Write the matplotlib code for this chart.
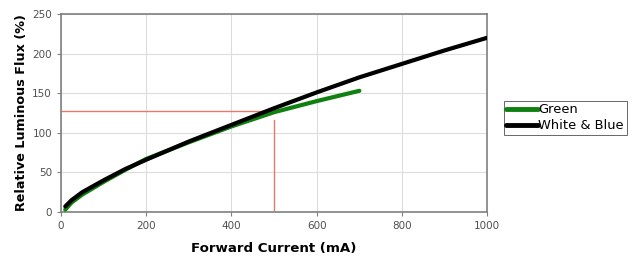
import matplotlib
matplotlib.use("Agg")
import matplotlib.pyplot as plt

# Forward current (mA) vs relative luminous flux (%)
green_x = [10, 25, 50, 100, 150, 200, 300, 400, 500, 600, 700]
green_y = [3, 12, 22, 38, 53, 67, 88, 108, 126, 140, 153]
white_x = [10, 25, 50, 100, 150, 200, 300, 400, 500, 600, 700, 800, 900, 1000]
white_y = [7, 15, 25, 40, 54, 66, 89, 110, 131, 151, 170, 187, 204, 220]

# reference marker at 500 mA
ref_x = 500
ref_y = 127.5

fig = plt.figure(figsize=(6.4, 2.69), dpi=100)
ax = fig.add_axes([0.0953, 0.212, 0.666, 0.736])

ax.plot(green_x, green_y, color="#108010", lw=3.0, label="Green", solid_capstyle="round", zorder=3)
ax.plot(white_x, white_y, color="black", lw=3.0, label="White & Blue", solid_capstyle="round", zorder=4)

ax.plot([0, 490], [ref_y, ref_y], color="#e8776e", lw=1.0, zorder=2)
ax.plot([ref_x, ref_x], [3, 116], color="#e8776e", lw=1.0, zorder=2)

ax.set_xlim(0, 1000)
ax.set_ylim(0, 250)
ax.set_xticks(range(0, 1001, 200))
ax.set_yticks(range(0, 251, 50))
ax.grid(True, color="#dcdcdc", lw=0.8)
ax.set_axisbelow(True)
for s in ax.spines.values():
    s.set_color("#808080")
    s.set_linewidth(1.2)
ax.tick_params(labelsize=7.5, labelcolor="#505050", color="#808080", length=3, width=0.8)

ax.set_xlabel("Forward Current (mA)", fontsize=9.6, fontweight="bold", labelpad=8)
ax.set_ylabel("Relative Luminous Flux (%)", fontsize=9.2, fontweight="bold", labelpad=3)

leg = fig.legend(loc="center left", bbox_to_anchor=(0.787, 0.562), fontsize=9.4,
                 frameon=True, fancybox=False, edgecolor="#404040", borderpad=0.2,
                 handlelength=2.4, handletextpad=0.05, labelspacing=0.25,
                 borderaxespad=0)
leg.get_frame().set_linewidth(0.7)
for line in leg.get_lines():
    line.set_linewidth(3.5)

fig.savefig("out.png", dpi=100)
